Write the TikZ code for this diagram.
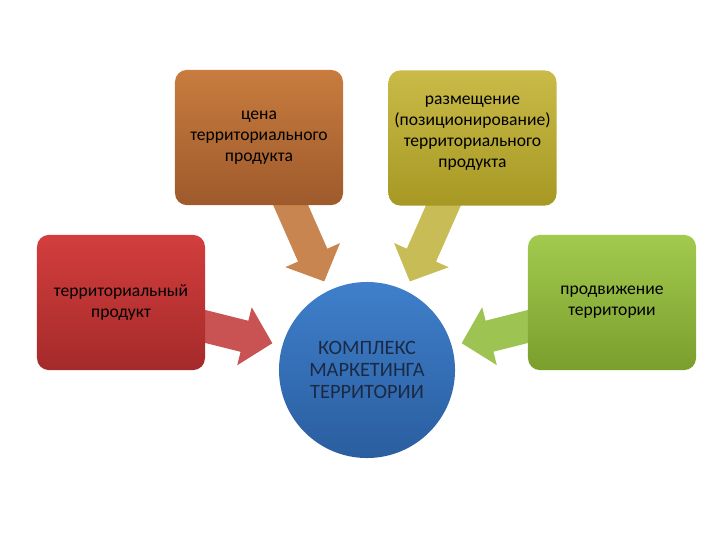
\documentclass[tikz,border=0pt]{standalone}
\usepackage{fontspec}
\setmainfont{Carlito}
\usetikzlibrary{arrows.meta,calc,backgrounds}

\definecolor{redtop}{HTML}{D23E3D}
\definecolor{redbot}{HTML}{A52A2A}
\definecolor{orangetop}{HTML}{C87C3E}
\definecolor{orangebot}{HTML}{9E5A2C}
\definecolor{olivetop}{HTML}{CABB48}
\definecolor{olivebot}{HTML}{A69823}
\definecolor{greentop}{HTML}{A2CA4E}
\definecolor{greenbot}{HTML}{7B9E2D}
\definecolor{bluetop}{HTML}{3F7FCB}
\definecolor{bluebot}{HTML}{2A5E9F}
\definecolor{hubtext}{HTML}{1A2A44}
\definecolor{redarrow}{HTML}{C95252}
\definecolor{orangearrow}{HTML}{C9854F}
\definecolor{olivearrow}{HTML}{C8BC56}
\definecolor{greenarrow}{HTML}{9DC453}

\tikzset{
  box/.style={rounded corners=0.3cm, minimum width=4.2cm, minimum height=3.38cm,
    align=center, inner sep=2pt, text=black,
    font=\fontsize{12.5}{15}\selectfont},
  hubnode/.style={circle, minimum size=4.4cm, inner sep=0pt, align=center,
    text=hubtext, font=\fontsize{14.5}{15.6}\selectfont,
    top color=bluetop, bottom color=bluebot},
  conn/.style={line width=0.8cm, shorten >=0.25cm,
    -{Triangle[length=0.72cm,width=1.45cm]}}
}

\begin{document}
\begin{tikzpicture}[x=0.025cm,y=-0.025cm]
  \useasboundingbox (0,0) rectangle (720,540);

  % four boxes and the hub
  \node[box, top color=orangetop, bottom color=orangebot] (price) at (259,137.5)
    {цена\\территориального\\продукта}; % top-left
  \node[box, top color=olivetop, bottom color=olivebot] (place) at (472.5,138)
    {размещение\\(позиционирование)\\территориального\\продукта\rule[-8.5pt]{0pt}{0pt}}; % top-right
  \node[box, top color=redtop, bottom color=redbot] (product) at (121,302.5)
    {территориальный\\продукт}; % left
  \node[box, top color=greentop, bottom color=greenbot] (promo) at (612,302.5)
    {продвижение\\территории}; % right
  \node[hubnode] (hub) at (367,370) {КОМПЛЕКС\\МАРКЕТИНГА\\ТЕРРИТОРИИ};

  % block arrows behind the boxes
  \begin{scope}[on background layer]
    \draw[conn, draw=orangearrow, fill=orangearrow] ($(price.south)+(23,-20)$) -- (hub.116);
    \draw[conn, draw=olivearrow, fill=olivearrow] ($(place.south)+(-20,-21)$) -- (hub.64);
    \draw[conn, draw=redarrow, fill=redarrow] ($(product.east)+(-20,19)$) -- (hub.164);
    \draw[conn, draw=greenarrow, fill=greenarrow] ($(promo.west)+(20,19)$) -- (hub.16);
  \end{scope}
\end{tikzpicture}
\end{document}
